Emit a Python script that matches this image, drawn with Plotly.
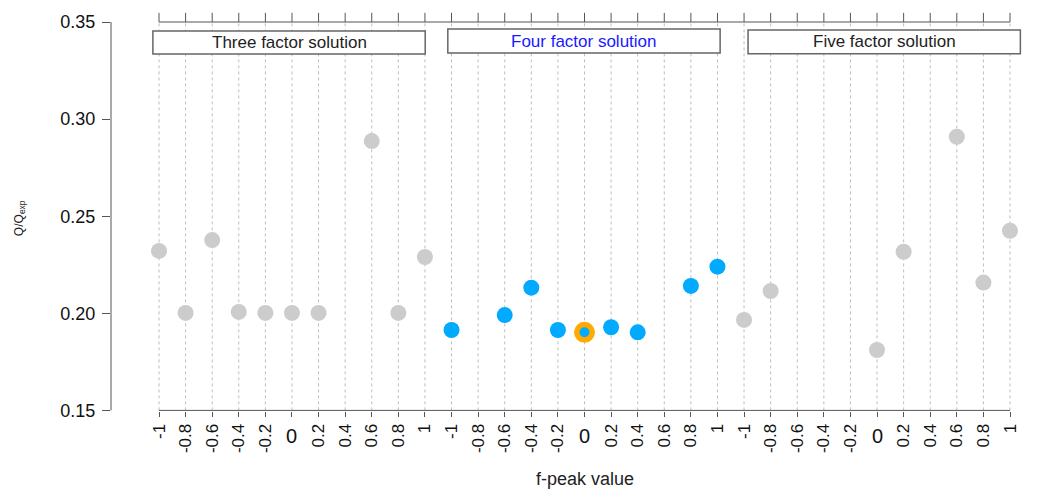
import plotly.graph_objects as go

# ---- data ----
fpeak_labels = ["-1", "-0.8", "-0.6", "-0.4", "-0.2", "0", "0.2", "0.4", "0.6", "0.8", "1"]
group_names = ["Three factor solution", "Four factor solution", "Five factor solution"]
three_vals = [0.2321, 0.2002, 0.2377, 0.2007, 0.2002, 0.2002, 0.2002, None, 0.2887, 0.2002, 0.2290]
four_vals = [0.1914, None, 0.1991, 0.2132, 0.1914, 0.1902, 0.1928, 0.1902, None, 0.2141, 0.2240]
five_vals = [0.1966, 0.2115, None, None, None, 0.1811, 0.2317, None, 0.2909, 0.2158, 0.2425]
selected_group = 1          # four factor solution
selected_fpeak = "0"
y_ticks = [0.15, 0.20, 0.25, 0.30, 0.35]

# ---- styles ----
FONT = "Liberation Sans, Arial, sans-serif"
GRAY = "#cccccc"
BLUE = "#00aaff"
ORANGE = "#ffaa00"
AXIS = "#555555"
GRID = "#bdbdbd"
group_text_colors = ["#222222", "#1a1aff", "#222222"]
box_offsets = [-0.11, -0.02, 0.27]  # horizontal placement of title boxes (index units)
box_half_width = 5.12
box_y = [(0.3335, 0.3454), (0.3340, 0.3464), (0.3336, 0.3459)]

n = len(fpeak_labels)
all_vals = [three_vals, four_vals, five_vals]
all_labels = fpeak_labels * 3
xs = list(range(n * 3))
y_lo, y_hi = y_ticks[0], y_ticks[-1]

fig = go.Figure()

for g, vals in enumerate(all_vals):
    gx = [g * n + i for i in range(n)]
    if g == selected_group:
        fig.add_trace(go.Scatter(x=gx, y=vals, mode="markers",
                                 marker=dict(size=16, color=BLUE, line=dict(width=0)),
                                 showlegend=False, hoverinfo="x+y"))
        si = fpeak_labels.index(selected_fpeak)
        fig.add_trace(go.Scatter(x=[g * n + si], y=[vals[si]], mode="markers",
                                 marker=dict(size=21, color=ORANGE, line=dict(width=0)),
                                 showlegend=False))
        fig.add_trace(go.Scatter(x=[g * n + si], y=[vals[si]], mode="markers",
                                 marker=dict(size=10, color=BLUE, line=dict(width=0)),
                                 showlegend=False))
    else:
        fig.add_trace(go.Scatter(x=gx, y=vals, mode="markers",
                                 marker=dict(size=16, color=GRAY, line=dict(width=0)),
                                 showlegend=False, hoverinfo="x+y"))

shapes = []
for x in xs:
    shapes.append(dict(type="line", xref="x", yref="y", x0=x, x1=x, y0=y_lo, y1=y_hi,
                       line=dict(color=GRID, width=1, dash="dot"), layer="below"))
shapes.append(dict(type="line", xref="x", yref="y", x0=xs[0], x1=xs[-1], y0=y_lo, y1=y_lo,
                   line=dict(color=AXIS, width=1)))
shapes.append(dict(type="line", xref="x", yref="y", x0=xs[0], x1=xs[-1], y0=y_hi, y1=y_hi,
                   line=dict(color=AXIS, width=1)))
for x in xs:
    shapes.append(dict(type="line", xref="x", yref="y", x0=x, x1=x, y0=y_hi, y1=y_hi + 0.0047,
                       line=dict(color=AXIS, width=1)))
shapes.append(dict(type="line", xref="paper", yref="y", x0=0, x1=0, y0=y_lo, y1=y_hi,
                   line=dict(color=AXIS, width=1)))

annotations = []
for g, name in enumerate(group_names):
    c = g * n + (n - 1) / 2 + box_offsets[g]
    y0, y1 = box_y[g]
    shapes.append(dict(type="rect", xref="x", yref="y", x0=c - box_half_width, x1=c + box_half_width,
                       y0=y0, y1=y1, line=dict(color="#666666", width=1.5), fillcolor="white"))
    annotations.append(dict(x=c, y=(y0 + y1) / 2, xref="x", yref="y", text=name, showarrow=False,
                            font=dict(family=FONT, size=17, color=group_text_colors[g]),
                            xanchor="center", yanchor="middle"))

tick_text = []
for i, lab in enumerate(all_labels):
    if lab == "0":
        tick_text.append(" ")
        annotations.append(dict(x=i, y=0, xref="x", yref="paper", text="0", showarrow=False,
                                font=dict(family=FONT, size=20, color="#111111"),
                                xanchor="center", yanchor="middle", yshift=-25))
    else:
        tick_text.append(lab)

annotations.append(dict(x=(xs[0] + xs[-1]) / 2, y=0, xref="x", yref="paper", text="f-peak value",
                        showarrow=False, font=dict(family=FONT, size=18, color="#222222"),
                        xanchor="center", yanchor="middle", yshift=-68))
annotations.append(dict(x=0, y=0.249, xref="paper", yref="y", text="Q/Q<sub>exp</sub>",
                        showarrow=False, textangle=-90, font=dict(family=FONT, size=12, color="#222222"),
                        xanchor="center", yanchor="middle", xshift=-91))

fig.update_layout(
    width=1053, height=490,
    margin=dict(l=111, r=13, t=10, b=79),
    plot_bgcolor="white", paper_bgcolor="white",
    shapes=shapes, annotations=annotations,
    showlegend=False,
    xaxis=dict(range=[-1.805, 33.128], tickmode="array", tickvals=xs, ticktext=tick_text,
               tickangle=-90, ticks="outside", ticklen=5, tickcolor=AXIS, showgrid=False,
               zeroline=False, showline=False,
               tickfont=dict(family=FONT, size=17, color="#111111")),
    yaxis=dict(range=[0.14969, 0.35618], tickmode="array", tickvals=y_ticks,
               ticktext=[f"{v:.2f}" for v in y_ticks], ticks="outside", ticklen=8,
               tickcolor=AXIS, showgrid=False, zeroline=False, showline=False,
               ticklabelstandoff=3,
               tickfont=dict(family=FONT, size=18, color="#111111")),
)

fig.write_html("out.html", config={"displayModeBar": False},
               post_script="document.body.style.margin='0';")
